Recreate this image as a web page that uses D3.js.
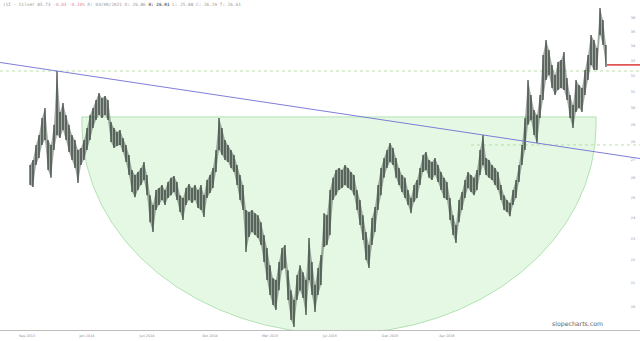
<!DOCTYPE html>
<html>
<head>
<meta charset="utf-8">
<script src="https://cdn.jsdelivr.net/npm/d3@7"></script>
<style>
  body { margin: 0; background: #fff; }
  svg { display: block; }
</style>
</head>
<body>
<svg id="chart" width="640" height="341"></svg>
<script>
'use strict';

// bar highs / lows (one bar every ~3px)
var highs = [26.70, 26.97, 27.81, 28.38, 29.38, 29.98, 28.09, 27.81, 28.97, 32.32,
  29.74, 30.29, 29.56, 28.97, 28.38, 28.09, 27.53, 27.64, 28.09, 28.79,
  29.56, 29.98, 30.47, 30.91, 30.60, 30.72, 30.47, 29.14, 28.79, 28.55,
  28.67, 28.21, 27.81, 27.25, 26.43, 26.16, 26.32, 26.54, 26.86, 26.16,
  25.11, 24.61, 25.37, 25.48, 25.64, 25.37, 25.79, 26.01, 26.11, 25.79,
  25.11, 24.96, 25.48, 25.69, 25.48, 25.64, 25.37, 25.64, 25.11, 25.90,
  26.16, 26.54, 27.53, 29.38, 28.79, 28.09, 27.81, 27.53, 27.25, 26.70,
  26.16, 25.64, 24.36, 24.26, 24.36, 24.21, 24.11, 23.77, 23.16, 22.55,
  21.78, 21.21, 21.13, 21.92, 22.55, 22.69, 21.56, 20.70, 20.29, 21.35,
  21.78, 21.47, 21.13, 23.02, 21.92, 20.92, 21.65, 22.24, 24.21, 24.11,
  25.37, 26.01, 26.43, 26.54, 26.43, 26.70, 26.54, 26.32, 26.16, 25.37,
  24.86, 24.11, 23.30, 22.69, 23.97, 24.51, 25.64, 26.54, 27.08, 27.53,
  27.92, 27.64, 27.08, 26.54, 26.16, 26.01, 25.37, 24.96, 25.64, 25.90,
  26.54, 27.25, 27.42, 26.97, 26.86, 27.08, 26.70, 26.32, 26.01, 25.79,
  24.96, 24.11, 23.63, 24.86, 25.27, 25.90, 26.32, 26.16, 26.01, 26.43,
  27.53, 28.38, 27.08, 26.97, 26.70, 26.54, 26.32, 25.64, 25.11, 24.86,
  24.71, 25.37, 25.90, 26.70, 27.81, 29.38, 31.73, 30.78, 29.86, 29.56,
  30.78, 33.39, 34.42, 33.73, 32.72, 32.06, 32.92, 33.05, 33.59, 31.86,
  30.78, 30.17, 31.73, 31.42, 31.23, 32.39, 33.39, 34.78, 34.42, 33.87,
  36.74, 35.85, 34.08];
var lows = [25.64, 25.53, 26.70, 27.08, 27.81, 28.09, 26.43, 26.01, 27.53, 28.38,
  28.21, 28.67, 28.09, 27.42, 26.97, 26.54, 25.74, 26.70, 26.97, 27.53,
  28.09, 28.79, 29.26, 29.56, 29.38, 29.56, 29.26, 27.98, 27.64, 27.75,
  27.81, 27.42, 26.86, 26.16, 25.27, 25.01, 25.37, 25.64, 25.90, 25.11,
  23.77, 23.30, 24.36, 24.61, 24.86, 24.61, 24.96, 25.11, 25.27, 24.86,
  24.26, 23.87, 24.61, 24.86, 24.71, 24.86, 24.46, 24.36, 24.02, 24.96,
  25.22, 25.48, 26.32, 27.53, 27.25, 26.97, 26.86, 26.54, 26.32, 25.64,
  24.86, 24.36, 22.37, 23.06, 23.30, 23.16, 23.02, 22.69, 21.92, 21.13,
  20.50, 20.09, 19.88, 20.70, 21.56, 21.65, 20.29, 19.48, 19.21, 20.29,
  20.70, 20.37, 19.68, 21.13, 20.50, 19.80, 20.50, 20.92, 22.60, 22.69,
  23.16, 24.86, 25.11, 25.37, 25.48, 25.64, 25.48, 25.37, 25.11, 24.36,
  23.63, 22.92, 22.01, 21.65, 22.69, 23.30, 24.36, 25.11, 26.01, 26.54,
  26.86, 26.70, 26.01, 25.64, 25.27, 24.96, 24.61, 24.21, 24.76, 24.96,
  25.64, 26.32, 26.43, 26.01, 25.90, 26.16, 25.79, 25.37, 24.96, 24.86,
  23.87, 23.16, 22.78, 23.77, 24.36, 24.96, 25.48, 25.27, 25.11, 25.37,
  26.16, 26.70, 26.16, 26.01, 25.90, 25.64, 25.37, 24.86, 24.36, 24.26,
  24.06, 24.61, 24.96, 25.79, 26.70, 27.53, 28.97, 29.26, 28.38, 27.92,
  29.38, 30.47, 31.73, 32.06, 31.23, 30.78, 31.10, 31.23, 31.10, 30.47,
  29.38, 28.79, 29.74, 29.98, 29.74, 30.78, 31.73, 32.72, 32.39, 32.39,
  34.78, 34.08, 32.59];

var yTicks = d3.range(20, 37);
var xTickBars = [-1, 19, 39, 60, 80, 100, 120, 139];
var xTickLabels = ['Sep 2013', 'Jan 2014', 'Jun 2014', 'Oct 2014', 'Mar 2015', 'Jul 2015', 'Dec 2015', 'Apr 2016'];

var trendA = [9, 32.32];     // spike high
var trendB = [151, 28.38];   // later spike high
var levelHigh = 32.32;
var levelLow = 27.81;
var levelLowFrom = 147;
var cupLeft = 17.3, cupRight = 188.7;
var cupTop = 29.44, cupMid = 28.97, cupBottom = 18.94;
var lastClose = 32.72;

(function draw() {
  var width = 640, plotBottom = 330;
  var svg = d3.select('#chart');

  var x = d3.scaleLinear()
    .domain([0, highs.length - 1])
    .range([30, 606]);
  var y = d3.scaleLog()
    .domain([19.09, 37.34])
    .range([plotBottom, 0]);

  svg.append('defs').append('clipPath')
      .attr('id', 'plot')
    .append('rect')
      .attr('width', width)
      .attr('height', plotBottom);

  // cup drawing
  var cl = x(cupLeft), cr = x(cupRight),
      rx = (cr - cl) / 2, cy = y(cupMid), ry = y(cupBottom) - cy, ty = y(cupTop);
  svg.append('path')
    .attr('clip-path', 'url(#plot)')
    .attr('d', 'M' + cl + ',' + ty + 'L' + cl + ',' + cy +
      'A' + rx + ',' + ry + ' 0 0 0 ' + cr + ',' + cy + 'L' + cr + ',' + ty + 'Z')
    .attr('fill', '#e4f8e4')
    .attr('stroke', '#a3dca3')
    .attr('stroke-width', 0.8);

  // dashed levels
  svg.append('line')
    .attr('x1', 0).attr('x2', width)
    .attr('y1', y(levelHigh)).attr('y2', y(levelHigh))
    .attr('stroke', '#a9d98f').attr('stroke-width', 0.8)
    .attr('stroke-dasharray', '3,3');
  svg.append('line')
    .attr('x1', x(levelLowFrom)).attr('x2', width)
    .attr('y1', y(levelLow)).attr('y2', y(levelLow))
    .attr('stroke', '#a9d98f').attr('stroke-width', 0.8)
    .attr('stroke-dasharray', '3,3');

  // price band + bars
  var band = d3.area()
    .x(function(d, i) { return x(i); })
    .y0(function(d, i) { return y(lows[i]); })
    .y1(function(d) { return y(d); });
  svg.append('path')
    .datum(highs)
    .attr('d', band)
    .attr('fill', '#55615a')
    .attr('fill-opacity', 0.55);

  svg.append('g')
    .selectAll('line')
    .data(highs)
    .enter().append('line')
      .attr('x1', function(d, i) { return x(i); })
      .attr('x2', function(d, i) { return x(i); })
      .attr('y1', function(d) { return y(d); })
      .attr('y2', function(d, i) { return y(lows[i]); })
      .attr('stroke', '#26302a')
      .attr('stroke-width', 1.1);

  // trend line, extended to both edges
  var ax = x(trendA[0]), ay = y(trendA[1]), bx = x(trendB[0]), by = y(trendB[1]);
  var slope = (by - ay) / (bx - ax);
  svg.append('line')
    .attr('x1', 0).attr('y1', ay - slope * ax)
    .attr('x2', width).attr('y2', ay + slope * (width - ax))
    .attr('stroke', '#6f6fd6')
    .attr('stroke-width', 0.9);

  // last price
  svg.append('line')
    .attr('x1', x(highs.length - 1) + 1).attr('x2', width)
    .attr('y1', y(lastClose)).attr('y2', y(lastClose))
    .attr('stroke', '#e05555').attr('stroke-width', 1.8);

  // y axis labels
  svg.append('g')
    .selectAll('text')
    .data(yTicks)
    .enter().append('text')
      .attr('x', 633)
      .attr('y', function(d) { return y(d) + 1.2; })
      .attr('text-anchor', 'middle')
      .attr('font-family', 'DejaVu Sans')
      .attr('font-size', 3.4)
      .attr('fill', '#8a8a9a')
      .text(function(d) { return d; });

  // x axis
  svg.append('line')
    .attr('x1', 0).attr('x2', width)
    .attr('y1', plotBottom + 0.5).attr('y2', plotBottom + 0.5)
    .attr('stroke', '#bdbdbd').attr('stroke-width', 1);

  svg.append('g')
    .selectAll('text')
    .data(xTickBars)
    .enter().append('text')
      .attr('x', function(d) { return x(d); })
      .attr('y', 337)
      .attr('text-anchor', 'middle')
      .attr('font-family', 'DejaVu Sans')
      .attr('font-size', 3.4)
      .attr('fill', '#8a8a9a')
      .text(function(d, i) { return xTickLabels[i]; });

  svg.append('text')
    .attr('x', 603).attr('y', 326)
    .attr('text-anchor', 'end')
    .attr('font-family', 'DejaVu Sans')
    .attr('font-size', 6.2)
    .attr('fill', '#666666')
    .text('slopecharts.com');

  // header
  var header = svg.append('text')
    .attr('x', 3).attr('y', 6)
    .attr('font-family', 'DejaVu Sans Mono')
    .attr('font-size', 4.4)
    .attr('fill', '#9a9a9a');
  header.append('tspan').text('(SI - Silver 85.73 ');
  header.append('tspan').attr('fill', '#e58a8a').text('-0.03 -0.10% ');
  header.append('tspan').text('D: 03/09/2021 O: 26.86 ');
  header.append('tspan').attr('font-weight', 'bold').attr('fill', '#666').text('H: 26.91 ');
  header.append('tspan').text('L: 25.88 C: 26.19 T: 26.61');
})();
</script>
</body>
</html>
